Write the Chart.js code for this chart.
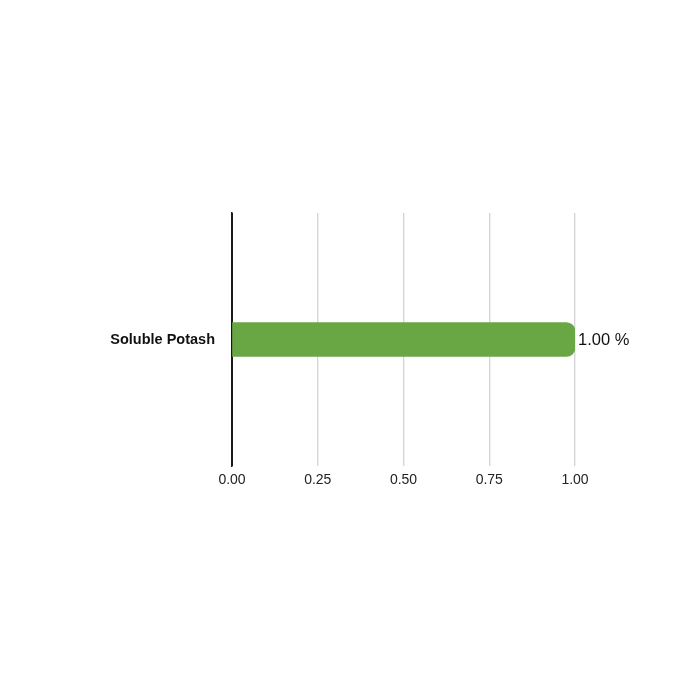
<!DOCTYPE html>
<html>
<head>
<meta charset="utf-8">
<script src="https://cdn.jsdelivr.net/npm/chart.js@4"></script>
<style>
  html, body { margin: 0; padding: 0; background: #fff; }
  #wrap { width: 700px; height: 700px; }
</style>
</head>
<body>
<div id="wrap"><canvas id="nutrientCanvas" width="700" height="700"></canvas></div>
<script>
// chart data
var categories = ['Soluble Potash'];
var percentValues = [1.00];
var xTicks = [0, 0.25, 0.5, 0.75, 1];

var barGreen = '#68a743';
var fontFam = '"Helvetica Neue", Helvetica, Arial, "Liberation Sans", sans-serif';

// draws "1.00 %" just right of each bar
var valueLabels = {
    id: 'valueLabels',
    afterDatasetsDraw: function(chart) {
        var ctx = chart.ctx;
        var meta = chart.getDatasetMeta(0);
        ctx.save();
        ctx.font = '16.5px ' + fontFam;
        ctx.fillStyle = '#111';
        ctx.textAlign = 'left';
        ctx.textBaseline = 'middle';
        meta.data.forEach(function(bar, i) {
            ctx.fillText(percentValues[i].toFixed(2) + ' %', bar.x + 3, bar.y + 1);
        });
        ctx.restore();
    }
};

var ctx = document.getElementById('nutrientCanvas');

var myChart = new Chart(ctx, {
    type: 'bar',
    data: {
        labels: categories,
        datasets: [{
            data: percentValues,
            backgroundColor: barGreen,
            borderWidth: 0,
            borderSkipped: 'start',
            borderRadius: 9,
            barThickness: 34
        }]
    },
    options: {
        indexAxis: 'y',
        responsive: false,
        animation: false,
        layout: {
            padding: { left: 0, right: 125, top: 213, bottom: 0 }
        },
        plugins: {
            legend: { display: false },
            tooltip: { enabled: false }
        },
        scales: {
            x: {
                min: 0,
                max: 1,
                afterBuildTicks: function(scale) {
                    scale.ticks = xTicks.map(function(v) { return { value: v }; });
                },
                ticks: {
                    padding: 6,
                    color: '#222',
                    font: { size: 14, family: fontFam },
                    callback: function(v) { return Number(v).toFixed(2); }
                },
                grid: {
                    drawTicks: false,
                    lineWidth: function(c) { return c.index === 0 ? 1 : 1.4; },
                    color: function(c) { return c.index === 0 ? '#1a1a1a' : '#d6d6d6'; }
                },
                border: { display: false },
                afterFit: function(scale) { scale.height = 234; }
            },
            y: {
                ticks: {
                    padding: 17,
                    color: '#111',
                    font: { size: 14.5, weight: 'bold', family: fontFam }
                },
                grid: { display: false, drawTicks: false },
                border: { display: true, color: '#1a1a1a', width: 1.5 },
                afterFit: function(scale) { scale.width = 232; }
            }
        }
    },
    plugins: [valueLabels]
});
</script>
</body>
</html>
